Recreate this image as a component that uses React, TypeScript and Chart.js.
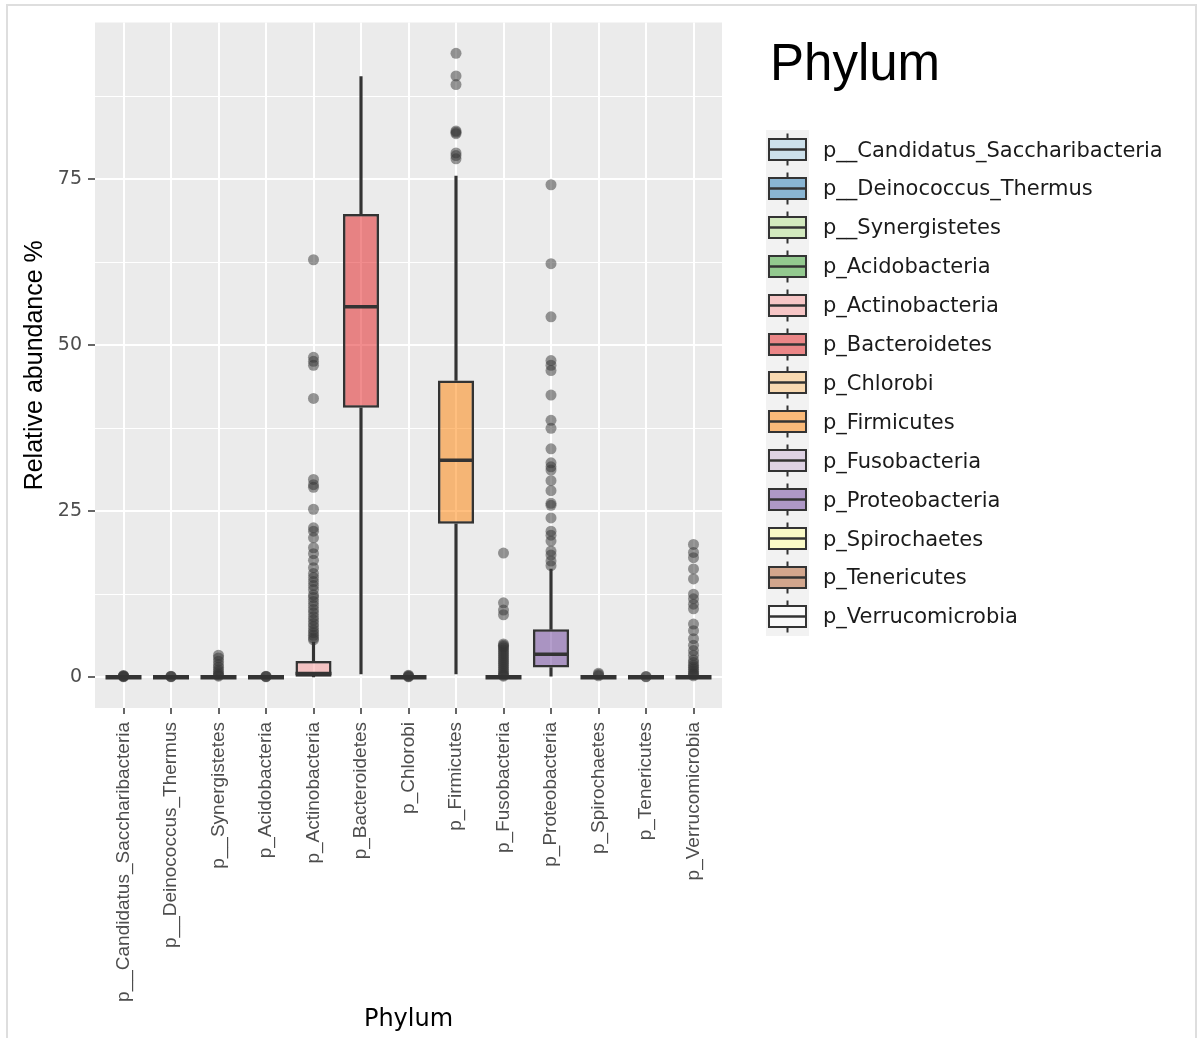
import React, { useEffect, useRef } from 'react';
import { Chart, registerables } from 'chart.js';

Chart.register(...registerables);

// ---------- data ----------
const categories = [
  'p__Candidatus_Saccharibacteria',
  'p__Deinococcus_Thermus',
  'p__Synergistetes',
  'p_Acidobacteria',
  'p_Actinobacteria',
  'p_Bacteroidetes',
  'p_Chlorobi',
  'p_Firmicutes',
  'p_Fusobacteria',
  'p_Proteobacteria',
  'p_Spirochaetes',
  'p_Tenericutes',
  'p_Verrucomicrobia',
];

const fillColors = [
  '#A6CEE3', '#1F78B4', '#B2DF8A', '#33A02C', '#FB9A99', '#E31A1C', '#FDBF6F',
  '#FF7F00', '#CAB2D6', '#6A3D9A', '#FFFF99', '#B15928', '#FFFFFF',
];

const q1 = [0, 0, 0, 0, 0.05, 40.6, 0, 23.1, 0, 1.45, 0, 0, 0];
const median = [0, 0, 0, 0, 0.55, 55.8, 0, 32.7, 0, 3.45, 0, 0, 0];
const q3 = [0, 0, 0, 0, 2.45, 69.8, 0, 44.7, 0, 7.2, 0, 0, 0];
const whiskerLow = [0, 0, 0, 0, 0, 0.5, 0, 0.5, 0, 0, 0, 0, 0];
const whiskerHigh = [0, 0, 0, 0, 5.3, 90.5, 0, 75.5, 0, 16.3, 0, 0, 0];

const outliers: number[][] = [
  [0.05, 0.1, 0.15, 0.2, 0.25],
  [0.05, 0.1, 0.15],
  [0.15, 0.3, 0.5, 0.8, 1.1, 1.5, 1.9, 2.4, 2.9, 3.3],
  [0.05, 0.1, 0.15],
  [62.9, 48.2, 47.6, 47.0, 42.0, 29.8, 29.0, 28.6, 25.3, 22.5, 22.0, 21.0, 19.5, 18.6, 17.6, 16.5, 15.6, 15.0, 14.4, 13.8, 13.2, 12.4, 12.0, 11.4, 10.8, 10.2, 9.7, 9.1, 8.6, 8.1, 7.6, 7.1, 6.7, 6.3, 5.9, 5.6],
  [],
  [0.05, 0.1, 0.2, 0.3],
  [94.0, 90.6, 89.3, 82.3, 82.1, 81.9, 79.0, 78.6, 78.1],
  [18.7, 11.2, 10.1, 9.4, 5.0, 4.8, 4.6, 4.4, 4.1, 3.8, 3.5, 3.2, 2.9, 2.6, 2.3, 2.0, 1.7, 1.4, 1.1, 0.8, 0.5, 0.3, 0.15],
  [74.2, 62.3, 54.3, 47.7, 47.0, 46.2, 42.5, 38.7, 37.5, 34.4, 32.3, 31.7, 31.2, 29.6, 28.1, 26.2, 25.9, 24.0, 22.0, 21.4, 20.5, 19.0, 18.4, 17.5, 16.8],
  [0.2, 0.4, 0.6],
  [0.05, 0.1],
  [20.0, 18.8, 18.0, 16.3, 14.8, 12.5, 11.8, 11.0, 10.3, 8.0, 7.0, 5.8, 4.8, 4.0, 3.3, 2.6, 2.2, 1.8, 1.5, 1.2, 0.9, 0.6, 0.4, 0.2],
];

const yMajorTicks = [0, 25, 50, 75];
const yMinorTicks = [12.5, 37.5, 62.5, 87.5];

// ---------- helpers ----------
function withAlpha(hex: string, a: number) {
  const r = parseInt(hex.slice(1, 3), 16);
  const g = parseInt(hex.slice(3, 5), 16);
  const b = parseInt(hex.slice(5, 7), 16);
  return `rgba(${r},${g},${b},${a})`;
}

const panelBg = {
  id: 'panelBg',
  beforeDraw(chart: any) {
    const { ctx, chartArea: a } = chart;
    ctx.save();
    ctx.fillStyle = '#EBEBEB';
    ctx.fillRect(a.left, a.top, a.right - a.left, a.bottom - a.top);
    ctx.restore();
  },
};

const DARK = '#333333';
const LEGEND_ROW0 = 149.5;
const LEGEND_STEP = 38.9;

function LegendKey({ color }: { color: string }) {
  return (
    <svg width={43} height={39} style={{ display: 'block', flex: '0 0 auto' }}>
      <rect x={0} y={0} width={43} height={39} fill="#F2F2F2" />
      <line x1={21.5} x2={21.5} y1={3.5} y2={9} stroke={DARK} strokeWidth={2} />
      <line x1={21.5} x2={21.5} y1={30} y2={35.5} stroke={DARK} strokeWidth={2} />
      <rect x={3} y={9} width={37} height={21} fill={color} fillOpacity={0.5} stroke={DARK} strokeWidth={2} />
      <line x1={3} x2={40} y1={19.5} y2={19.5} stroke={DARK} strokeWidth={2.5} />
    </svg>
  );
}

export default function App() {
  const ref = useRef<HTMLCanvasElement>(null);

  useEffect(() => {
    const canvas = ref.current;
    if (!canvas) return;

    const boxData = categories.map((_, i) => ({ x: i, y: [q1[i], q3[i]] }));
    const lowData = categories.map((_, i) => ({ x: i, y: [whiskerLow[i], q1[i]] }));
    const highData = categories.map((_, i) => ({ x: i, y: [q3[i], whiskerHigh[i]] }));
    const medData = categories.map((_, i) => ({ x: i, y: median[i] }));
    const outData: { x: number; y: number }[] = [];
    outliers.forEach((list, i) => list.forEach((v) => outData.push({ x: i, y: v })));

    const chart = new Chart(canvas, {
      type: 'bar',
      data: {
        datasets: [
          {
            type: 'bar',
            label: 'box',
            data: boxData as any,
            backgroundColor: fillColors.map((c) => withAlpha(c, 0.5)),
            borderColor: DARK,
            borderWidth: 2.5,
            borderSkipped: false,
            barPercentage: 0.76,
            categoryPercentage: 1,
            grouped: false,
            order: 1,
          } as any,
          {
            type: 'bar',
            label: 'whiskerLow',
            data: lowData as any,
            backgroundColor: DARK,
            borderWidth: 0,
            barThickness: 2.5,
            grouped: false,
            order: 2,
          } as any,
          {
            type: 'bar',
            label: 'whiskerHigh',
            data: highData as any,
            backgroundColor: DARK,
            borderWidth: 0,
            barThickness: 2.5,
            grouped: false,
            order: 2,
          } as any,
          {
            type: 'scatter',
            label: 'median',
            data: medData,
            pointStyle: 'line',
            radius: 18,
            borderColor: DARK,
            borderWidth: (c: any) => (q1[c.dataIndex] === q3[c.dataIndex] ? 4.5 : 3.5),
            order: 0,
          } as any,
          {
            type: 'scatter',
            label: 'outliers',
            data: outData,
            radius: 5.5,
            backgroundColor: 'rgba(51,51,51,0.5)',
            borderWidth: 0,
            order: 3,
          } as any,
        ],
      },
      options: {
        responsive: false,
        animation: false,
        events: [],
        layout: { padding: { left: 0, right: 476, top: 18, bottom: 0 } },
        plugins: {
          legend: { display: false },
          tooltip: { enabled: false },
          title: { display: false },
        },
        scales: {
          x: {
            type: 'linear',
            min: -0.6,
            max: 12.6,
            offset: false,
            afterBuildTicks: (scale: any) => {
              scale.ticks = categories.map((_, i) => ({ value: i }));
            },
            afterFit: (scale: any) => {
              scale.height = 330;
              scale.paddingLeft = 0;
              scale.paddingRight = 0;
            },
            grid: {
              color: '#FFFFFF',
              lineWidth: 2,
              drawTicks: true,
              tickLength: 6,
              tickColor: DARK,
              tickWidth: 1.5,
              offset: false,
            },
            border: { display: false },
            ticks: {
              autoSkip: false,
              minRotation: 90,
              maxRotation: 90,
              padding: 8,
              color: '#4D4D4D',
              font: { family: 'Liberation Sans', size: 19 },
              callback: (value: any) => categories[Number(value)] ?? '',
            },
            title: {
              display: true,
              text: 'Phylum',
              color: '#000000',
              font: { family: 'DejaVu Sans', size: 24 },
              padding: { top: 0, bottom: 4 },
            },
          },
          y: {
            type: 'linear',
            min: -4.65,
            max: 98.65,
            afterBuildTicks: (scale: any) => {
              scale.ticks = [...yMajorTicks, ...yMinorTicks]
                .sort((a, b) => a - b)
                .map((v) => ({ value: v }));
            },
            afterFit: (scale: any) => {
              scale.width = 95;
              scale.paddingTop = 0;
              scale.paddingBottom = 0;
            },
            grid: {
              color: '#FFFFFF',
              lineWidth: (c: any) => (c.tick && yMajorTicks.includes(c.tick.value) ? 2 : 1),
              drawTicks: true,
              tickLength: 7,
              tickColor: (c: any) =>
                c.tick && yMajorTicks.includes(c.tick.value) ? DARK : 'rgba(0,0,0,0)',
              tickWidth: 1.5,
            },
            border: { display: false },
            ticks: {
              padding: 6,
              color: '#4D4D4D',
              font: { family: 'DejaVu Sans', size: 19 },
              callback: (value: any) => (yMajorTicks.includes(Number(value)) ? String(value) : ''),
            },
            title: {
              display: true,
              text: 'Relative abundance %',
              color: '#000000',
              font: { family: 'Liberation Sans', size: 25 },
              padding: { top: 20, bottom: 0 },
            },
          },
        },
      } as any,
      plugins: [panelBg],
    });

    return () => chart.destroy();
  }, []);

  return (
    <div
      style={{
        position: 'absolute',
        left: 0,
        top: 0,
        width: 1198,
        height: 1038,
        overflow: 'hidden',
        background: '#FFFFFF',
      }}
    >
      <div
        style={{
          position: 'absolute',
          left: 6,
          top: 4,
          width: 1191,
          height: 1034,
          boxSizing: 'border-box',
          border: '2px solid #DEDEDE',
          borderBottom: 'none',
        }}
      />
      <canvas
        ref={ref}
        width={1198}
        height={1038}
        style={{ position: 'absolute', left: 0, top: 0, width: 1198, height: 1038 }}
      />
      <div
        style={{
          position: 'absolute',
          left: 770,
          top: 36.8,
          fontFamily: 'Liberation Sans',
          fontSize: 51,
          lineHeight: '51px',
          color: '#000000',
          whiteSpace: 'nowrap',
        }}
      >
        Phylum
      </div>
      {categories.map((name, i) => (
        <div
          key={name}
          style={{
            position: 'absolute',
            left: 766,
            top: LEGEND_ROW0 + LEGEND_STEP * i - 19.5,
            height: 39,
            display: 'flex',
            alignItems: 'center',
            whiteSpace: 'nowrap',
          }}
        >
          <LegendKey color={fillColors[i]} />
          <span
            style={{
              marginLeft: 14,
              fontFamily: 'DejaVu Sans',
              fontSize: 21,
              color: '#1A1A1A',
            }}
          >
            {name}
          </span>
        </div>
      ))}
    </div>
  );
}
